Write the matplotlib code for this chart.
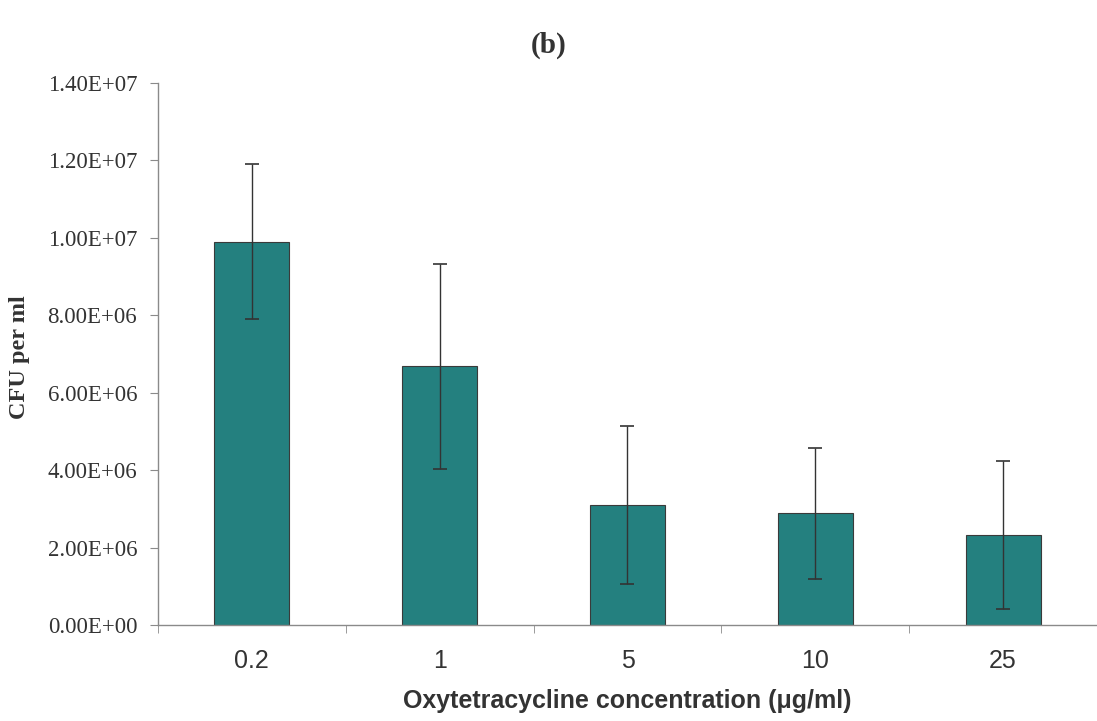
import matplotlib
matplotlib.use("Agg")
import matplotlib.pyplot as plt
import numpy as np

# data
concentrations = ['0.2', '1', '5', '10', '25']
cfu_mean = [9.9e6, 6.68e6, 3.1e6, 2.88e6, 2.32e6]
cfu_err = [2.0e6, 2.65e6, 2.03e6, 1.68e6, 1.91e6]
y_ticks = [0, 2e6, 4e6, 6e6, 8e6, 1.0e7, 1.2e7, 1.4e7]

bar_color = '#24807f'
axis_color = '#8a8a8a'
serif = ['Liberation Serif', 'DejaVu Serif']
sans = ['Liberation Sans', 'DejaVu Sans']

fig = plt.figure(figsize=(10.97, 7.21), dpi=100)
ax = fig.add_axes([0.144, 0.1332, 0.856, 0.7517])

x = np.arange(len(concentrations))
ax.bar(x, cfu_mean, width=0.40, color=bar_color, edgecolor='#3a3a3a', linewidth=0.8, zorder=2)
ax.errorbar(x, cfu_mean, yerr=cfu_err, fmt='none', ecolor='#333333',
            elinewidth=1.0, capsize=5, capthick=1.2, zorder=3)

ax.set_xlim(-0.5, len(concentrations) - 0.5)
ax.set_ylim(0, 1.4e7)

ax.set_yticks(y_ticks)
ax.set_yticklabels([f"{v:.2E}" for v in y_ticks], fontfamily=serif, fontsize=16.5, color='#333333')

# category labels at bar centres, tick marks between categories
ax.set_xticks(x)
ax.set_xticklabels(concentrations, fontfamily=sans, fontsize=18, color='#333333')
ax.tick_params(axis='x', which='major', length=0, pad=17)
ax.set_xticks(np.arange(len(concentrations) + 1) - 0.5, minor=True)
ax.tick_params(axis='x', which='minor', length=6, direction='out', color=axis_color)
ax.tick_params(axis='y', length=6, direction='out', color=axis_color, pad=9)

for side in ['top', 'right']:
    ax.spines[side].set_visible(False)
for side in ['left', 'bottom']:
    ax.spines[side].set_color(axis_color)
    ax.spines[side].set_linewidth(1.0)

ax.set_xlabel('Oxytetracycline concentration (\u03bcg/ml)', fontfamily=sans,
              fontsize=18, fontweight='bold', color='#333333', labelpad=12)
fig.text(0.018, 0.505, 'CFU per ml', rotation=90, ha='center', va='center',
         fontfamily=serif, fontsize=17.5, fontweight='bold', color='#333333')
fig.text(0.5, 0.937, '(b)', ha='center', va='center', fontfamily=serif,
         fontsize=21, fontweight='bold', color='#333333')

fig.savefig('out.png', dpi=100)
